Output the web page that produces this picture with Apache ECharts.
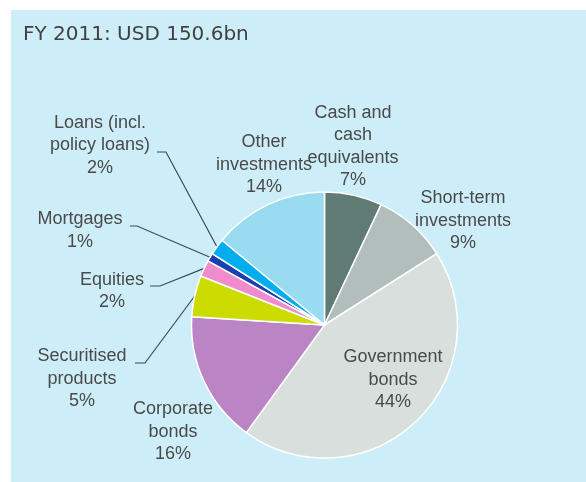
<!DOCTYPE html>
<html>
<head>
<meta charset="utf-8">
<script src="https://cdn.jsdelivr.net/npm/echarts@6/dist/echarts.min.js"></script>
<style>
  html, body { margin: 0; padding: 0; background: #ffffff; }
  #chart { width: 586px; height: 482px; }
</style>
</head>
<body>
<div id="chart"></div>
<script>
// Investment portfolio breakdown, FY 2011
const titleText = 'FY 2011: USD 150.6bn';
const categories = [
  'Cash and\ncash\nequivalents',
  'Short-term\ninvestments',
  'Government\nbonds',
  'Corporate\nbonds',
  'Securitised\nproducts',
  'Equities',
  'Mortgages',
  'Loans (incl.\npolicy loans)',
  'Other\ninvestments'
];
const shares = [7, 9, 44, 16, 5, 2, 1, 2, 14];
const sliceColors = [
  '#5f7b73', '#b2bebb', '#d9dfdd', '#bb85c5', '#cddc00',
  '#f08ccd', '#1b3faf', '#00aeef', '#99dcf2'
];

// Where each label block sits, plus the elbow/end of its leader line (if any)
const labelPlacement = [
  { x: 353, y: 146.5 },
  { x: 463, y: 221 },
  { x: 393, y: 380 },
  { x: 173, y: 432 },
  { x: 82,  y: 379,   line: [[145, 363], [135, 363]] },
  { x: 112, y: 291,   line: [[160, 286], [150, 286]] },
  { x: 80,  y: 230.5, line: [[137, 226], [130, 226]] },
  { x: 100, y: 145.5, line: [[166, 152], [157, 152]] },
  { x: 264, y: 165 }
];

const FONT = '"Liberation Sans", Arial, sans-serif';
const TEXT_COLOR = '#4a4a4a';

const chart = echarts.init(document.getElementById('chart'), null, { renderer: 'canvas' });

const pieData = categories.map((name, i) => ({
  name: name,
  value: shares[i],
  itemStyle: { color: sliceColors[i] },
  labelLine: { show: !!labelPlacement[i].line }
}));

chart.setOption({
  backgroundColor: '#ffffff',
  animation: false,
  graphic: [
    {
      type: 'rect',
      z: -10,
      shape: { x: 11, y: 10, width: 575, height: 472 },
      style: { fill: '#cdeef8' }
    }
  ],
  title: {
    text: titleText,
    left: 23,
    top: 25,
    padding: 0,
    textStyle: {
      fontFamily: '"DejaVu Sans", sans-serif',
      fontSize: 20,
      fontWeight: 'normal',
      color: '#414141'
    }
  },
  series: [
    {
      type: 'pie',
      center: [324.5, 325],
      radius: 133,
      startAngle: 90,
      clockwise: true,
      avoidLabelOverlap: false,
      emphasis: { disabled: true },
      itemStyle: { borderColor: '#ffffff', borderWidth: 1.5 },
      label: {
        show: true,
        position: 'outside',
        formatter: p => p.name + '\n' + p.value + '%',
        fontFamily: FONT,
        fontSize: 18,
        lineHeight: 22.5,
        color: TEXT_COLOR,
        align: 'center'
      },
      labelLine: {
        length: 10,
        length2: 10,
        lineStyle: { color: '#3d4b4b', width: 1.2 }
      },
      labelLayout: function (params) {
        const p = labelPlacement[params.dataIndex];
        const out = { x: p.x, y: p.y, align: 'center', verticalAlign: 'middle' };
        if (p.line && params.labelLinePoints) {
          out.labelLinePoints = [params.labelLinePoints[0], p.line[0], p.line[1]];
        }
        return out;
      },
      data: pieData
    }
  ]
});
</script>
</body>
</html>
